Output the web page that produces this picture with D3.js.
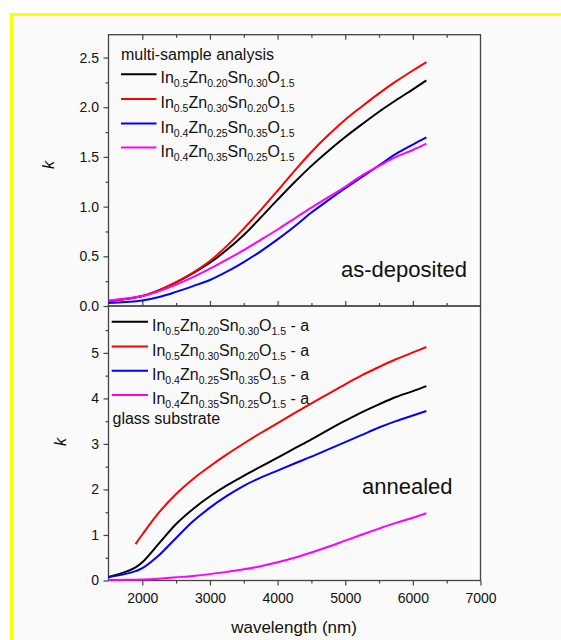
<!DOCTYPE html>
<html lang="en">
<head>
<meta charset="UTF-8">
<title>Extinction coefficient k vs wavelength</title>
<style>
  body { margin: 0; background: #fff; }
  svg { display: block; font-family: "Liberation Sans", Arial, sans-serif; }
</style>
</head>
<body>
<div id="chart"></div>
<script src="https://d3js.org/d3.v7.min.js"></script>
<script>
// ---- data ----
const names = ["In0.5Zn0.20Sn0.30O1.5", "In0.5Zn0.30Sn0.20O1.5", "In0.4Zn0.25Sn0.35O1.5", "In0.4Zn0.35Sn0.25O1.5"];
const colors = ["#000000", "#ff0000", "#0000ff", "#ff00ff"];

// as-deposited
const wlTop = [1500, 1750, 2000, 2250, 2500, 2750, 3000, 3250, 3500, 3750, 4000, 4250, 4500, 4750, 5000, 5250, 5500, 5750, 6000, 6200];
const depBlack   = [0.05, 0.07, 0.10, 0.16, 0.237, 0.33, 0.435, 0.565, 0.715, 0.89, 1.07, 1.245, 1.41, 1.56, 1.70, 1.83, 1.955, 2.07, 2.18, 2.27];
const depRed     = [0.05, 0.07, 0.10, 0.16, 0.24, 0.337, 0.453, 0.605, 0.779, 0.965, 1.16, 1.36, 1.55, 1.72, 1.875, 2.01, 2.14, 2.26, 2.37, 2.455];
const depBlue    = [0.03, 0.04, 0.055, 0.09, 0.142, 0.20, 0.262, 0.345, 0.442, 0.55, 0.67, 0.80, 0.94, 1.065, 1.185, 1.30, 1.415, 1.53, 1.625, 1.697];
const depMagenta = [0.055, 0.075, 0.10, 0.15, 0.215, 0.29, 0.375, 0.467, 0.562, 0.665, 0.77, 0.88, 0.99, 1.095, 1.20, 1.315, 1.41, 1.50, 1.57, 1.633];

// annealed
const wlBot = [1500, 1750, 1900, 2000, 2250, 2500, 2750, 3000, 3250, 3500, 3750, 4000, 4250, 4500, 4750, 5000, 5250, 5500, 5750, 6000, 6200];
const annBlack   = [0.08, 0.19, 0.29, 0.40, 0.82, 1.24, 1.57, 1.85, 2.09, 2.30, 2.50, 2.70, 2.90, 3.10, 3.31, 3.51, 3.70, 3.87, 4.03, 4.16, 4.27];
const annRed     = [null, null, 0.80, 1.01, 1.50, 1.90, 2.23, 2.51, 2.77, 3.01, 3.24, 3.455, 3.675, 3.89, 4.10, 4.31, 4.51, 4.69, 4.86, 5.01, 5.13];
const annBlue    = [0.07, 0.145, 0.205, 0.27, 0.56, 0.935, 1.30, 1.60, 1.857, 2.08, 2.26, 2.415, 2.57, 2.72, 2.88, 3.04, 3.20, 3.36, 3.50, 3.625, 3.725];
const annMagenta = [0.01, 0.014, 0.017, 0.02, 0.04, 0.07, 0.10, 0.14, 0.19, 0.245, 0.315, 0.40, 0.50, 0.615, 0.74, 0.875, 1.01, 1.14, 1.265, 1.38, 1.477];

const xMajor = [2000, 3000, 4000, 5000, 6000, 7000];
const xMinor = [2500, 3500, 4500, 5500, 6500];
const yTopMajor = [0, 0.5, 1.0, 1.5, 2.0, 2.5];
const yTopMinor = [0.25, 0.75, 1.25, 1.75, 2.25];
const yBotMajor = [0, 1, 2, 3, 4, 5];
const yBotMinor = [0.5, 1.5, 2.5, 3.5, 4.5, 5.5];

// ---- layout ----
const width = 561, height = 640;
const plotLeft = 108.5, plotRight = 480.5, plotTop = 34.7, plotMid = 306, plotBottom = 580.5;
const axisColor = "#444";

const svg = d3.select("#chart").append("svg")
  .attr("width", width)
  .attr("height", height);

// yellow frame (runs off the right and bottom edge)
svg.append("rect")
  .attr("x", 11.5).attr("y", 14.5)
  .attr("width", 620).attr("height", 700)
  .attr("fill", "#fafafa")
  .attr("stroke", "#ffff00")
  .attr("stroke-width", 3);

const x = d3.scaleLinear([1500, 7000], [plotLeft, plotRight]);
const yTop = d3.scaleLinear([0, 2.73], [plotMid, plotTop]);
const yBot = d3.scaleLinear([0, 6.03], [plotBottom, plotMid]);

function styleAxis(g) {
  g.select(".domain").remove();
  g.selectAll(".tick line").attr("stroke", axisColor).attr("stroke-width", 1.2);
  g.selectAll(".tick text").attr("fill", "#111").style("font-size", "14px")
    .style("font-family", "'Liberation Sans', Arial, sans-serif");
}

// y axes
function leftAxis(scale, majors, minors, fmt) {
  svg.append("g")
    .attr("transform", `translate(${plotLeft},0)`)
    .call(d3.axisLeft(scale).tickValues(majors).tickSize(5).tickPadding(4.5).tickFormat(fmt))
    .call(styleAxis);
  svg.append("g")
    .attr("transform", `translate(${plotLeft},0)`)
    .call(d3.axisLeft(scale).tickValues(minors).tickSize(3).tickFormat(""))
    .call(styleAxis);
}
leftAxis(yTop, yTopMajor, yTopMinor, d3.format(".1f"));
leftAxis(yBot, yBotMajor, yBotMinor, d3.format("d"));

// bottom x axis with labels
svg.append("g")
  .attr("transform", `translate(0,${plotBottom})`)
  .call(d3.axisBottom(x).tickValues(xMajor).tickSize(5).tickPadding(7.8).tickFormat(d3.format("d")))
  .call(styleAxis);
svg.append("g")
  .attr("transform", `translate(0,${plotBottom})`)
  .call(d3.axisBottom(x).tickValues(xMinor).tickSize(3).tickFormat(""))
  .call(styleAxis);

// top frame ticks (pointing down) and panel boundary ticks (pointing up)
[[d3.axisBottom, plotTop], [d3.axisTop, plotMid]].forEach(([ax, yy]) => {
  svg.append("g").attr("transform", `translate(0,${yy})`)
    .call(ax(x).tickValues(xMajor.slice(0, -1)).tickSize(5).tickFormat(""))
    .call(styleAxis);
  svg.append("g").attr("transform", `translate(0,${yy})`)
    .call(ax(x).tickValues(xMinor).tickSize(3).tickFormat(""))
    .call(styleAxis);
});

// frames
[[plotTop, plotMid], [plotMid, plotBottom]].forEach(([y0, y1]) => {
  svg.append("rect")
    .attr("x", plotLeft).attr("y", y0)
    .attr("width", plotRight - plotLeft).attr("height", y1 - y0)
    .attr("fill", "none")
    .attr("stroke", axisColor)
    .attr("stroke-width", 1.3);
});

// curves
function drawCurves(wl, series, yScale) {
  const line = d3.line()
    .defined(d => d[1] != null)
    .x(d => x(d[0]))
    .y(d => yScale(d[1]))
    .curve(d3.curveCatmullRom.alpha(0.5));
  series.forEach((vals, i) => {
    svg.append("path")
      .datum(wl.map((w, j) => [w, vals[j]]))
      .attr("fill", "none")
      .attr("stroke", colors[i])
      .attr("stroke-width", 2)
      .attr("d", line);
  });
}
drawCurves(wlTop, [depBlack, depRed, depBlue, depMagenta], yTop);
drawCurves(wlBot, [annBlack, annRed, annBlue, annMagenta], yBot);

// formula text with subscripts
function formula(sel, name, suffix) {
  const parts = [...name.matchAll(/([A-Z][a-z]?)([\d.]+)/g)];
  parts.forEach((p, k) => {
    sel.append("tspan").attr("dy", k ? -4 : 0).style("font-size", "16px").text(p[1]);
    sel.append("tspan").attr("dy", 4).style("font-size", "10.5px").text(p[2]);
  });
  if (suffix) sel.append("tspan").attr("dy", -4).style("font-size", "16px").text(suffix);
}

function legend(x0, x1, rows, suffix) {
  rows.forEach((yy, i) => {
    svg.append("line")
      .attr("x1", x0).attr("x2", x1)
      .attr("y1", yy).attr("y2", yy)
      .attr("stroke", colors[i]).attr("stroke-width", 2);
    const t = svg.append("text")
      .attr("x", x1 + 4).attr("y", yy + 9)
      .attr("fill", "#111");
    formula(t, names[i], suffix);
  });
}

svg.append("text")
  .attr("x", 121).attr("y", 59.5)
  .style("font-size", "16px").attr("fill", "#111")
  .text("multi-sample analysis");
legend(121, 156.5, [74.3, 99, 123.5, 147.5], "");
legend(111.7, 148, [321.7, 346.5, 370.7, 395], " - a");
svg.append("text")
  .attr("x", 112.5).attr("y", 424)
  .style("font-size", "16px").attr("fill", "#111")
  .text("glass substrate");

// panel labels
svg.append("text")
  .attr("x", 467).attr("y", 277)
  .attr("text-anchor", "end")
  .style("font-size", "22px").attr("fill", "#111")
  .text("as-deposited");
svg.append("text")
  .attr("x", 452.5).attr("y", 494)
  .attr("text-anchor", "end")
  .style("font-size", "22px").attr("fill", "#111")
  .text("annealed");

// axis titles
[[54, 165], [66, 442]].forEach(([xx, yy]) => {
  svg.append("text")
    .attr("transform", `translate(${xx},${yy}) rotate(-90)`)
    .attr("text-anchor", "middle")
    .style("font-size", "16px").style("font-style", "italic")
    .attr("fill", "#111")
    .text("k");
});
svg.append("text")
  .attr("x", 294).attr("y", 633)
  .attr("text-anchor", "middle")
  .style("font-size", "17px").attr("fill", "#111")
  .text("wavelength (nm)");
</script>
</body>
</html>
